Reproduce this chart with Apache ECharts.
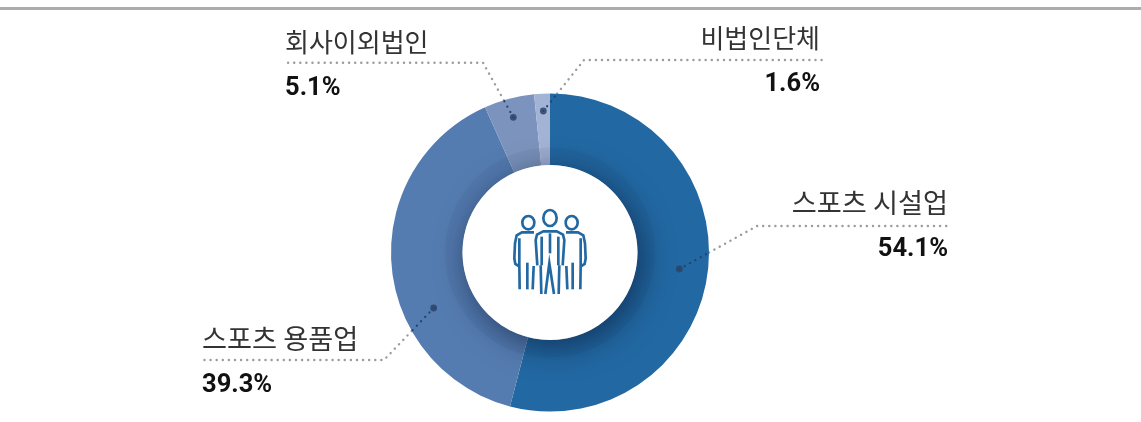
<!DOCTYPE html>
<html><head><meta charset="utf-8">
<style>html,body{margin:0;padding:0;background:#fff}#c{width:1141px;height:422px}</style>
<script src="https://cdn.jsdelivr.net/npm/echarts@6/dist/echarts.min.js"></script>
</head><body><div id="c"></div>
<script>
const categories = ['스포츠 시설업','스포츠 용품업','회사이외법인','비법인단체'];
const shares = [54.1,39.3,5.1,1.6];
const shareLabels = ['54.1%','39.3%','5.1%','1.6%'];
const colors = ['#2268a2','#557cb0','#7c94bd','#a3b3d5'];

const CX=550, CY=252.5, R=159, INNER=87.5, HALO=105;
const FONT='"Noto Sans CJK KR","Noto Sans",sans-serif';
const NUMFONT='Roboto,"Noto Sans",sans-serif';
const leaders = [
 {dot:[679.3,269],elbow:[757,226],end:[950,226],align:'right',tx:948,dy:-2,big:true},
 {dot:[433.7,308],elbow:[384,360],end:[200,360],align:'left',tx:202,dy:0,big:true},
 {dot:[513.3,117.3],elbow:[483,62.7],end:[283,62.7],align:'left',tx:285,dy:0,big:false},
 {dot:[543.3,111],elbow:[584,60],end:[823,60],align:'right',tx:820,dy:-1,big:false}
];
function edgePoint(d,e){
  const dx=e[0]-d[0],dy=e[1]-d[1],fx=d[0]-CX,fy=d[1]-CY;
  const a=dx*dx+dy*dy,b=2*(fx*dx+fy*dy),c=fx*fx+fy*fy-R*R;
  const t=(-b+Math.sqrt(b*b-4*a*c))/(2*a);
  return [d[0]+dx*t,d[1]+dy*t];
}
const chart=echarts.init(document.getElementById('c'),null,{renderer:'canvas'});
const graphic=[
 {type:'rect',shape:{x:0,y:7,width:1141,height:3},style:{fill:'#acacac'},silent:true}
];
leaders.forEach(l=>{
  const p=edgePoint(l.dot,l.elbow);
  graphic.push({type:'line',z:20,silent:true,shape:{x1:l.dot[0],y1:l.dot[1],x2:p[0],y2:p[1]},
    style:{stroke:'#23426e',lineWidth:2.2,lineDash:[0.1,6],lineCap:'round'}});
  graphic.push({type:'circle',z:21,silent:true,shape:{cx:l.dot[0],cy:l.dot[1],r:3.4},style:{fill:'#2b4468',opacity:.85}});
});
const S='#2268a2';
const iconStrokes=[
 [[142,226],[137,150],[141,134],[160,124],[200,124],[219,134],[223,150],[218,226]],
 [[155,140],[155,226]],[[205,140],[205,226]],[[180,130],[180,190]],
 [[152,226],[154,312]],[[166,312],[178,220],[192,312]],[[208,226],[206,312]],
 [[132,127],[96,127],[80,136],[75,160],[73,205],[76,222],[86,228]],
 [[88,145],[88,228],[89,298]],[[112,218],[112,298]],[[131,228],[128,298]],
 [[228,127],[264,127],[280,136],[285,160],[287,205],[284,222],[274,228]],
 [[272,145],[272,228],[271,298]],[[248,218],[248,298]],[[229,228],[232,298]]
];
const iconHeads=[[180,84,20,24],[115,98,18,20],[245,98,18,20]];
const iconKids=iconStrokes.map(pts=>({type:'polyline',z:30,shape:{points:pts},style:{fill:'none',stroke:S,lineWidth:8}}))
 .concat(iconHeads.map(h=>({type:'ellipse',z:30,shape:{cx:h[0],cy:h[1],rx:h[2],ry:h[3]},style:{fill:'none',stroke:S,lineWidth:8}})));
graphic.push({type:'group',silent:true,x:490,y:190,scaleX:1/3,scaleY:1/3,children:iconKids});

chart.setOption({
 animation:false,
 graphic:graphic,
 series:[
  {type:'pie',z:2,center:[CX,CY],radius:[INNER,R],startAngle:90,clockwise:true,
   data:categories.map((n,i)=>({name:n,value:shares[i],itemStyle:{color:colors[i]}})),
   emphasis:{disabled:true},silent:true,
   label:{show:true,position:'outside',color:'#111',fontFamily:FONT,
     formatter:p=>'{'+(leaders[p.dataIndex].big?'m':'n')+'|'+p.name+'}\n{v|'+shareLabels[p.dataIndex]+'}',
     rich:{n:{fontSize:26,fontWeight:400,lineHeight:52,color:'#333',fontFamily:FONT},
           m:{fontSize:27.2,fontWeight:400,lineHeight:52,color:'#333',fontFamily:FONT},
           v:{fontSize:25.5,fontWeight:'bold',lineHeight:42,color:'#111',fontFamily:NUMFONT}}},
   labelLine:{show:true,lineStyle:{color:'#9c9c9c',width:2.4,type:[0.1,6],cap:'round'}},
   labelLayout:p=>{
     const l=leaders[p.dataIndex];
     return {x:l.tx,y:l.end[1]+l.dy,align:l.align,verticalAlign:'middle',
       labelLinePoints:[edgePoint(l.dot,l.elbow),l.elbow,l.end]};
   }},
  {type:'pie',z:3,center:[CX,CY],radius:[0,HALO],silent:true,label:{show:false},labelLine:{show:false},
   data:[{value:1,name:'halo',itemStyle:{color:'rgba(10,30,60,0.05)'}}],emphasis:{disabled:true}},
  {type:'pie',z:4,center:[CX,CY],radius:[0,INNER],silent:true,label:{show:false},labelLine:{show:false},
   data:[{value:1,name:'hole',itemStyle:{color:'#fff',shadowColor:'rgba(5,20,50,0.55)',shadowBlur:30,shadowOffsetX:5,shadowOffsetY:7}}],emphasis:{disabled:true}}
 ]
});
</script></body></html>
